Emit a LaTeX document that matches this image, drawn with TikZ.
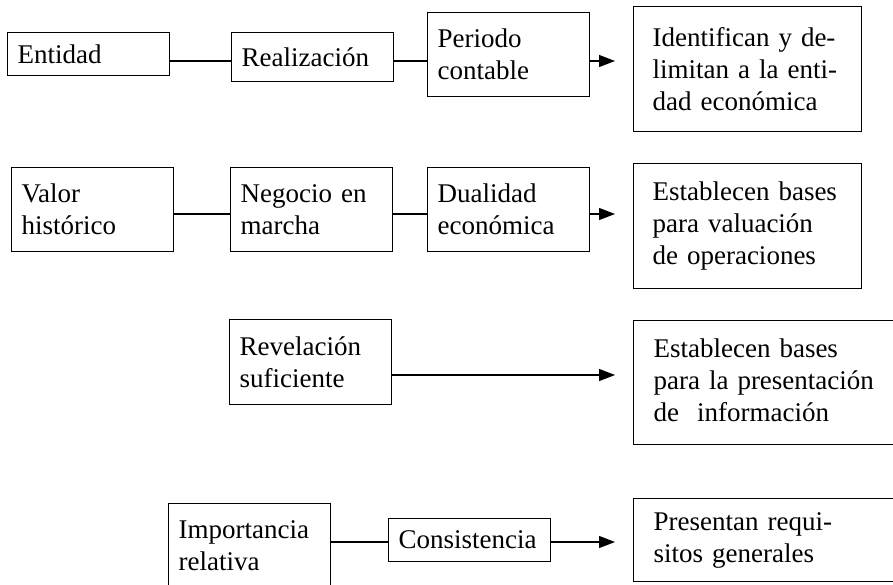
\documentclass[tikz,border=0pt]{standalone}
\usepackage{fontspec}
\setmainfont{Liberation Serif}
\usetikzlibrary{arrows.meta}

\begin{document}
\begin{tikzpicture}[
            x=1pt, y=-1pt,
            every node/.style={font=\fontsize{27}{32}\selectfont},
            box/.style={draw=black, line width=1.1pt, rectangle, align=left, anchor=north west, inner ysep=0pt},
            sBox/.style={box, inner xsep=10pt, text width=142pt},
            bBox/.style={box, inner xsep=19pt, text width=190pt},
            oBox/.style={box, inner xsep=20pt, text width=240pt},
            link/.style={line width=1.1pt},
            toArrow/.style={line width=1.1pt, -{Triangle[length=16pt, width=12pt]}, shorten >=18pt}
        ]

        \useasboundingbox (0,0) rectangle (893,584);

        \node [sBox, minimum height=43pt] (ent) at (7,32) {Entidad};
        \node [sBox, minimum height=49pt] (rea) at (231,32) {Realización};
        \node [sBox, minimum height=84pt] (per) at (427,12) {Periodo\\contable};
        \node [bBox, minimum height=125pt] (ide) at (633,6) {Identifican y de-\\limitan a la enti-\\dad económica};

        \node [sBox, minimum height=84pt] (val) at (11,167) {Valor\\histórico};
        \node [sBox, minimum height=84pt] (neg) at (230,167) {Negocio en\\marcha};
        \node [sBox, minimum height=84pt] (dua) at (427,167) {Dualidad\\económica};
        \node [bBox, minimum height=125pt] (val2) at (633,163) {Establecen bases\\para valuación\\de operaciones};

        \node [sBox, minimum height=85pt] (rev) at (229,319) {Revelación\\suficiente};
        \node [oBox, minimum height=124pt, text depth=68pt] (pre) at (633,320) {Establecen bases\\para la presentación\\de \ información};

        \node [sBox, minimum height=84pt] (imp) at (168,503) {Importancia\\relativa};
        \node [sBox, minimum height=43pt] (con) at (388,518) {Consistencia};
        \node [oBox, minimum height=83pt] (req) at (633,498) {Presentan requi-\\sitos generales};

        \coordinate (r1) at (0,61);
        \coordinate (r2) at (0,214);
        \coordinate (r3) at (0,375);
        \coordinate (r4) at (0,542);

        \draw [link] (ent.east |- r1) -- (rea.west |- r1);
        \draw [link] (rea.east |- r1) -- (per.west |- r1);
        \draw [toArrow] (per.east |- r1) -- (ide.west |- r1);

        \draw [link] (val.east |- r2) -- (neg.west |- r2);
        \draw [link] (neg.east |- r2) -- (dua.west |- r2);
        \draw [toArrow] (dua.east |- r2) -- (val2.west |- r2);

        \draw [toArrow] (rev.east |- r3) -- (pre.west |- r3);

        \draw [link] (imp.east |- r4) -- (con.west |- r4);
        \draw [toArrow] (con.east |- r4) -- (req.west |- r4);

    \end{tikzpicture}
\end{document}
